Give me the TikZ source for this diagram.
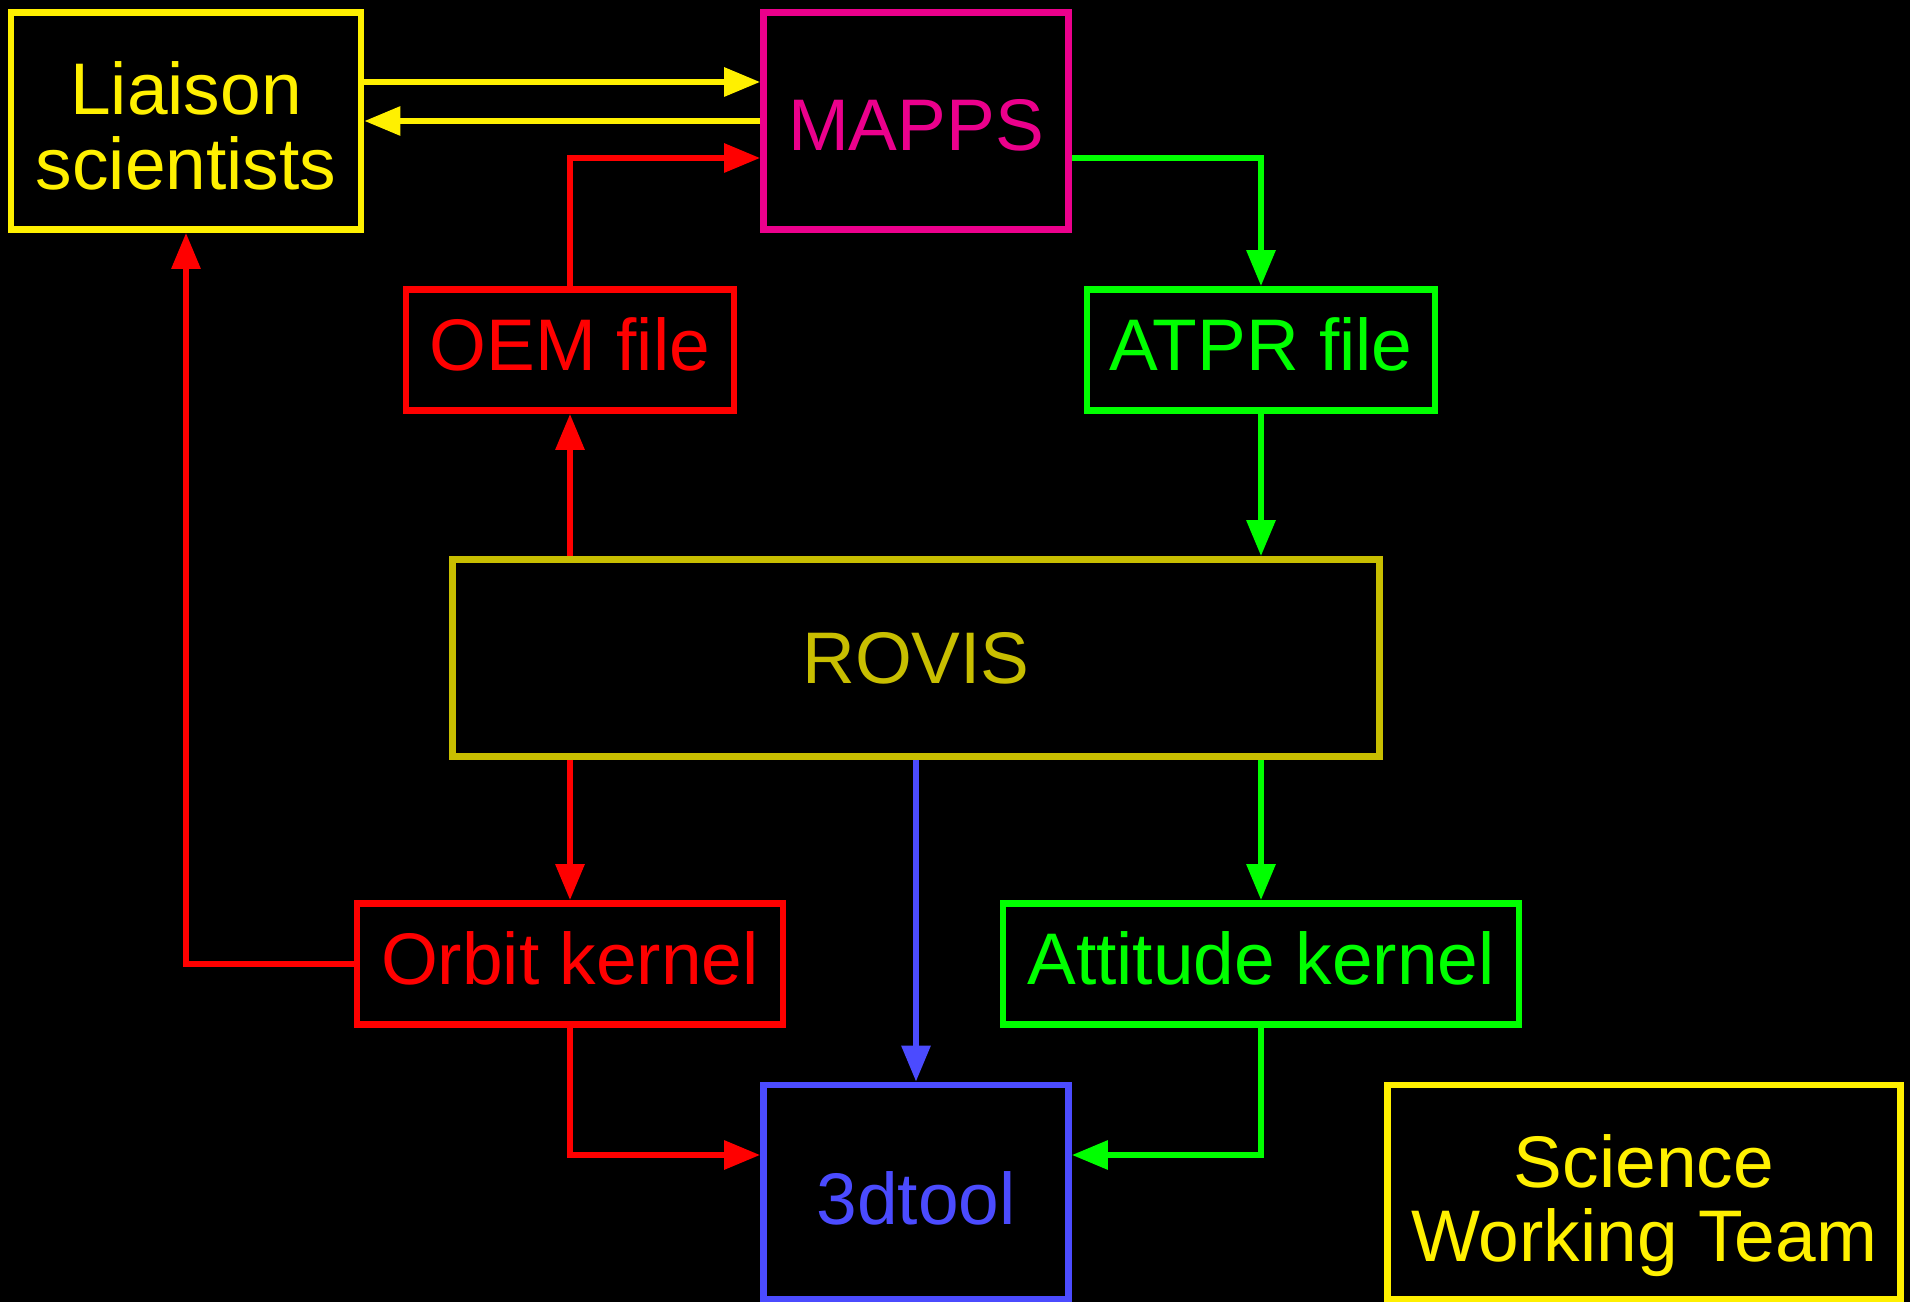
\documentclass[tikz,border=0pt]{standalone}
\usepackage{fontspec}
\setmainfont{Liberation Sans}
\usepackage{xcolor}
\usepackage{tikz}
\usetikzlibrary{arrows.meta,positioning,calc}

\definecolor{lsyellow}{RGB}{255,240,0}
\definecolor{mapps}{RGB}{235,0,140}
\definecolor{rovis}{RGB}{200,190,0}
\definecolor{orbitred}{RGB}{255,0,0}
\definecolor{attgreen}{RGB}{0,255,0}
\definecolor{toolblue}{RGB}{75,75,255}

\begin{document}
\begin{tikzpicture}[
  box/.style={rectangle, draw, line width=1.9pt, align=center, inner sep=0pt,
    font=\fontsize{20.8}{21.2}\selectfont},
  small/.style={box, minimum height=1.21cm, text depth=3.5pt},
  link/.style={-{Triangle[length=3.6mm, width=2.8mm]}, line width=1.7pt}
]
% Background and frame
\fill[black] (0,0) rectangle (19.10,-13.02);
\useasboundingbox (0,0) rectangle (19.10,-13.02);

% Top row
\node[box, lsyellow, minimum width=3.50cm, minimum height=2.17cm, text height=39pt] (Liaison) at (1.86,-1.21) {Liaison\\scientists};
\node[box, mapps, minimum width=3.05cm, minimum height=2.17cm, text height=17pt] (MAPPS) at (9.16,-1.21) {MAPPS};

% Files
\node[small, orbitred, minimum width=3.28cm] (OEM) at (5.70,-3.50) {OEM file};
\node[small, attgreen, minimum width=3.48cm] (ATPR) at (12.61,-3.50) {ATPR file};

% ROVIS
\node[box, rovis, minimum width=9.27cm, minimum height=1.97cm] (ROVIS) at (9.16,-6.58) {ROVIS};

% Kernels
\node[small, orbitred, minimum width=4.26cm] (Orbit) at (5.70,-9.64) {Orbit kernel};
\node[small, attgreen, minimum width=5.16cm] (Attitude) at (12.61,-9.64) {Attitude kernel};

% Bottom row
\node[box, toolblue, minimum width=3.05cm, minimum height=2.14cm, text height=18.5pt] (tool) at (9.16,-11.92) {3dtool};
\node[box, lsyellow, minimum width=5.13cm, minimum height=2.14cm, text height=44pt] (SWT) at (16.44,-11.92) {Science\\Working Team};

% Liaison <-> MAPPS
\draw[link, lsyellow] ([yshift=3.9mm]Liaison.east) -- ([yshift=3.9mm]MAPPS.west);
\draw[link, lsyellow] (MAPPS.west) -- (Liaison.east);

% Orbit path
\draw[link, orbitred] (OEM.north) |- ([yshift=-3.7mm]MAPPS.west);
\draw[link, orbitred] (OEM.south |- ROVIS.north) -- (OEM.south);
\draw[link, orbitred] (Orbit.north |- ROVIS.south) -- (Orbit.north);
\draw[link, orbitred] (Orbit.west) -| (Liaison.south);
\draw[link, orbitred] (Orbit.south) |- ([yshift=3.7mm]tool.west);

% Attitude path
\draw[link, attgreen] ([yshift=-3.7mm]MAPPS.east) -| (ATPR.north);
\draw[link, attgreen] (ATPR.south) -- (ATPR.south |- ROVIS.north);
\draw[link, attgreen] (Attitude.north |- ROVIS.south) -- (Attitude.north);
\draw[link, attgreen] (Attitude.south) |- ([yshift=3.7mm]tool.east);

% ROVIS to 3dtool
\draw[link, toolblue] (ROVIS.south) -- (tool.north);

\end{tikzpicture}
\end{document}
